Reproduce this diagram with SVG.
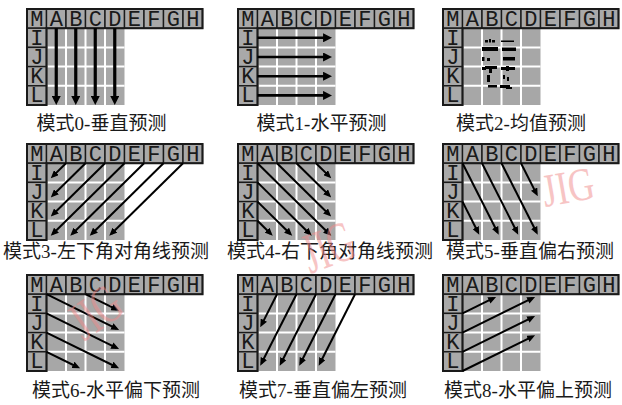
<svg xmlns="http://www.w3.org/2000/svg" xmlns:xlink="http://www.w3.org/1999/xlink" width="622" height="405" viewBox="0 0 622 405">
<style>
.hc{fill:#a9a9a9;stroke:#1a1a1a;stroke-width:1.4}
.ob{fill:none;stroke:#1a1a1a;stroke-width:2}
.gr{fill:#a7a7a7}
.wl{stroke:#fff;stroke-width:2}
.ht{font-family:"Liberation Mono",monospace;font-size:22px;fill:#1a1a1a;text-anchor:middle}
.lb{font-family:"Liberation Serif","Noto Sans CJK SC",sans-serif;font-size:19px;fill:#1a1a1a;text-anchor:middle}
.a0{stroke:#000;stroke-width:3.2;fill:none;marker-end:url(#hb)}
.a1{stroke:#000;stroke-width:2.6;fill:none;marker-end:url(#hb)}
.ad{stroke:#000;stroke-width:2;fill:none;marker-end:url(#hs)}
.bl{fill:#000}
.wm{font-family:"Liberation Serif",serif;font-size:36px;fill:#f08a8a;opacity:.5;text-anchor:middle}
</style>
<defs>
<marker id="hb" markerUnits="userSpaceOnUse" viewBox="0 0 10 10" markerWidth="9" markerHeight="9" refX="5.5" refY="5" orient="auto"><path d="M0,0 L10,5 L0,10 z" fill="#000"/></marker>
<marker id="hs" markerUnits="userSpaceOnUse" viewBox="0 0 8 7" markerWidth="8" markerHeight="7" refX="5" refY="3.5" orient="auto"><path d="M0,0 L8,3.5 L0,7 z" fill="#000"/></marker>
<g id="grid">
<rect class="gr" x="19.5" y="19.2" width="78" height="76.8"/>
<path class="wl" d="M39,19.2V96M58.5,19.2V96M78,19.2V96M19.5,38.4H97.5M19.5,57.6H97.5M19.5,76.8H97.5"/>
<rect class="hc" x="0" y="0" width="19.5" height="19.2"/>
<rect class="hc" x="19.5" y="0" width="19.5" height="19.2"/>
<rect class="hc" x="39" y="0" width="19.5" height="19.2"/>
<rect class="hc" x="58.5" y="0" width="19.5" height="19.2"/>
<rect class="hc" x="78" y="0" width="19.5" height="19.2"/>
<rect class="hc" x="97.5" y="0" width="19.5" height="19.2"/>
<rect class="hc" x="117" y="0" width="19.5" height="19.2"/>
<rect class="hc" x="136.5" y="0" width="19.5" height="19.2"/>
<rect class="hc" x="156" y="0" width="19.5" height="19.2"/>
<rect class="hc" x="0" y="19.2" width="19.5" height="19.2"/>
<rect class="hc" x="0" y="38.4" width="19.5" height="19.2"/>
<rect class="hc" x="0" y="57.6" width="19.5" height="19.2"/>
<rect class="hc" x="0" y="76.8" width="19.5" height="19.2"/>
<path class="ob" d="M0,0H175.5V19.2H19.5V96H0Z"/>
</g>
</defs>
<rect width="622" height="405" fill="#fff"/>

<g id="mode0" transform="translate(27,9)">
<use xlink:href="#grid"/>
<text class="ht" x="9.75 29.25 48.75 68.25 87.75 107.25 126.75 146.25 165.75" y="16.5">MABCDEFGH</text>
<text class="ht" x="9.75 9.75 9.75 9.75" y="35.7 54.9 74.1 93.3">IJKL</text>
<text class="lb" x="74.5" y="121">模式0-垂直预测</text>
</g>
<g id="mode1" transform="translate(238,9)">
<use xlink:href="#grid"/>
<text class="ht" x="9.75 29.25 48.75 68.25 87.75 107.25 126.75 146.25 165.75" y="16.5">MABCDEFGH</text>
<text class="ht" x="9.75 9.75 9.75 9.75" y="35.7 54.9 74.1 93.3">IJKL</text>
<text class="lb" x="83.5" y="121">模式1-水平预测</text>
</g>
<g id="mode2" transform="translate(443,9)">
<use xlink:href="#grid"/>
<text class="ht" x="9.75 29.25 48.75 68.25 87.75 107.25 126.75 146.25 165.75" y="16.5">MABCDEFGH</text>
<text class="ht" x="9.75 9.75 9.75 9.75" y="35.7 54.9 74.1 93.3">IJKL</text>
<g id="mean-marks">
<rect class="bl" x="42" y="31" width="3" height="2.5"/><rect class="bl" x="46" y="30" width="2" height="3.5"/><rect class="bl" x="49" y="31" width="3" height="2.5"/>
<rect class="bl" x="58" y="31.5" width="13" height="1.5"/>
<rect class="bl" x="39" y="38" width="16" height="4"/><rect class="bl" x="59" y="38.5" width="14" height="3.5"/>
<rect class="bl" x="39" y="48" width="2.5" height="4"/><rect class="bl" x="44" y="49" width="3" height="3"/><rect class="bl" x="60" y="48" width="12" height="3.5"/>
<rect class="bl" x="39" y="58" width="4" height="3"/><rect class="bl" x="42" y="57" width="12" height="3"/><rect class="bl" x="46" y="60" width="3" height="4"/>
<rect class="bl" x="58" y="58" width="5" height="3"/><rect class="bl" x="63" y="57" width="3" height="5"/><rect class="bl" x="66" y="58" width="6" height="3"/>
<rect class="bl" x="44" y="66" width="3" height="7"/><rect class="bl" x="60" y="66" width="2" height="4"/><rect class="bl" x="64" y="68" width="2" height="4"/>
<rect class="bl" x="45" y="76" width="9" height="2.5"/><rect class="bl" x="57" y="76" width="10" height="3"/><rect class="bl" x="63" y="78" width="6" height="2"/>
</g>
<text class="lb" x="78" y="121">模式2-均值预测</text>
</g>
<g id="mode3" transform="translate(27,144)">
<use xlink:href="#grid"/>
<text class="ht" x="9.75 29.25 48.75 68.25 87.75 107.25 126.75 146.25 165.75" y="16.5">MABCDEFGH</text>
<text class="ht" x="9.75 9.75 9.75 9.75" y="35.7 54.9 74.1 93.3">IJKL</text>
<text class="lb" x="79" y="114">模式3-左下角对角线预测</text>
</g>
<g id="mode4" transform="translate(238,144)">
<use xlink:href="#grid"/>
<text class="ht" x="9.75 29.25 48.75 68.25 87.75 107.25 126.75 146.25 165.75" y="16.5">MABCDEFGH</text>
<text class="ht" x="9.75 9.75 9.75 9.75" y="35.7 54.9 74.1 93.3">IJKL</text>
<text class="lb" x="92" y="114">模式4-右下角对角线预测</text>
</g>
<g id="mode5" transform="translate(443,144)">
<use xlink:href="#grid"/>
<text class="ht" x="9.75 29.25 48.75 68.25 87.75 107.25 126.75 146.25 165.75" y="16.5">MABCDEFGH</text>
<text class="ht" x="9.75 9.75 9.75 9.75" y="35.7 54.9 74.1 93.3">IJKL</text>
<text class="lb" x="87" y="114">模式5-垂直偏右预测</text>
</g>
<g id="mode6" transform="translate(27,275)">
<use xlink:href="#grid"/>
<text class="ht" x="9.75 29.25 48.75 68.25 87.75 107.25 126.75 146.25 165.75" y="16.5">MABCDEFGH</text>
<text class="ht" x="9.75 9.75 9.75 9.75" y="35.7 54.9 74.1 93.3">IJKL</text>
<text class="lb" x="89" y="122">模式6-水平偏下预测</text>
</g>
<g id="mode7" transform="translate(238,275)">
<use xlink:href="#grid"/>
<text class="ht" x="9.75 29.25 48.75 68.25 87.75 107.25 126.75 146.25 165.75" y="16.5">MABCDEFGH</text>
<text class="ht" x="9.75 9.75 9.75 9.75" y="35.7 54.9 74.1 93.3">IJKL</text>
<text class="lb" x="85" y="122">模式7-垂直偏左预测</text>
</g>
<g id="mode8" transform="translate(443,275)">
<use xlink:href="#grid"/>
<text class="ht" x="9.75 29.25 48.75 68.25 87.75 107.25 126.75 146.25 165.75" y="16.5">MABCDEFGH</text>
<text class="ht" x="9.75 9.75 9.75 9.75" y="35.7 54.9 74.1 93.3">IJKL</text>
<text class="lb" x="85" y="122">模式8-水平偏上预测</text>
</g>

<g id="connectors">
<g transform="translate(27,9)">
<line class="a0" x1="29.25" y1="19.2" x2="29.25" y2="92"/>
<line class="a0" x1="48.75" y1="19.2" x2="48.75" y2="92"/>
<line class="a0" x1="68.25" y1="19.2" x2="68.25" y2="92"/>
<line class="a0" x1="87.75" y1="19.2" x2="87.75" y2="92"/>
</g>
<g transform="translate(238,9)">
<line class="a1" x1="19.5" y1="28.8" x2="90" y2="28.8"/>
<line class="a1" x1="19.5" y1="48" x2="90" y2="48"/>
<line class="a1" x1="19.5" y1="67.2" x2="90" y2="67.2"/>
<line class="a1" x1="19.5" y1="86.4" x2="90" y2="86.4"/>
</g>
<g transform="translate(27,144)">
<line class="ad" x1="39" y1="19.2" x2="25.9" y2="32.1"/>
<line class="ad" x1="58.5" y1="19.2" x2="25.9" y2="51.3"/>
<line class="ad" x1="78" y1="19.2" x2="25.9" y2="70.5"/>
<line class="ad" x1="97.5" y1="19.2" x2="25.9" y2="89.7"/>
<line class="ad" x1="117" y1="19.2" x2="45.4" y2="89.7"/>
<line class="ad" x1="136.5" y1="19.2" x2="64.9" y2="89.7"/>
<line class="ad" x1="156" y1="19.2" x2="84.4" y2="89.7"/>
</g>
<g transform="translate(238,144)">
<line class="ad" x1="19.5" y1="19.2" x2="91.1" y2="89.7"/>
<line class="ad" x1="39" y1="19.2" x2="91.1" y2="70.5"/>
<line class="ad" x1="58.5" y1="19.2" x2="91.1" y2="51.3"/>
<line class="ad" x1="78" y1="19.2" x2="91.1" y2="32.1"/>
<line class="ad" x1="19.5" y1="38.4" x2="71.6" y2="89.7"/>
<line class="ad" x1="19.5" y1="57.6" x2="52.1" y2="89.7"/>
<line class="ad" x1="19.5" y1="76.8" x2="32.6" y2="89.7"/>
</g>
<g transform="translate(443,144)">
<line class="ad" x1="19.5" y1="19.2" x2="54.4" y2="88"/>
<line class="ad" x1="39" y1="19.2" x2="73.9" y2="88"/>
<line class="ad" x1="58.5" y1="19.2" x2="93.4" y2="88"/>
<line class="ad" x1="78" y1="19.2" x2="93.4" y2="49.6"/>
<line class="ad" x1="19.5" y1="57.6" x2="34.9" y2="88"/>
</g>
<g transform="translate(27,275)">
<line class="ad" x1="19.5" y1="19.2" x2="89.4" y2="53.6"/>
<line class="ad" x1="19.5" y1="38.4" x2="89.4" y2="72.8"/>
<line class="ad" x1="19.5" y1="57.6" x2="89.4" y2="92"/>
<line class="ad" x1="19.5" y1="76.8" x2="50.4" y2="92"/>
<line class="ad" x1="58.5" y1="19.2" x2="89.4" y2="34.4"/>
</g>
<g transform="translate(238,275)">
<line class="ad" x1="39" y1="19.2" x2="23.6" y2="49.6"/>
<line class="ad" x1="58.5" y1="19.2" x2="23.6" y2="88"/>
<line class="ad" x1="78" y1="19.2" x2="43.1" y2="88"/>
<line class="ad" x1="97.5" y1="19.2" x2="62.6" y2="88"/>
<line class="ad" x1="117" y1="19.2" x2="82.1" y2="88"/>
</g>
<g transform="translate(443,275)">
<line class="ad" x1="19.5" y1="38.4" x2="50.4" y2="23.2"/>
<line class="ad" x1="19.5" y1="57.6" x2="89.4" y2="23.2"/>
<line class="ad" x1="19.5" y1="76.8" x2="89.4" y2="42.4"/>
<line class="ad" x1="19.5" y1="96" x2="89.4" y2="61.6"/>
</g>
</g>

<g id="watermarks">
<text class="wm" transform="translate(328,247) rotate(-20) scale(1,1.6)" x="0" y="12">JIG</text>
<text class="wm" transform="translate(568,187) rotate(-10) scale(1,1.3)" x="0" y="12">JIG</text>
<text class="wm" transform="translate(95,312) rotate(-35) scale(1,1.5)" x="0" y="12">JIG</text>
</g>
</svg>
